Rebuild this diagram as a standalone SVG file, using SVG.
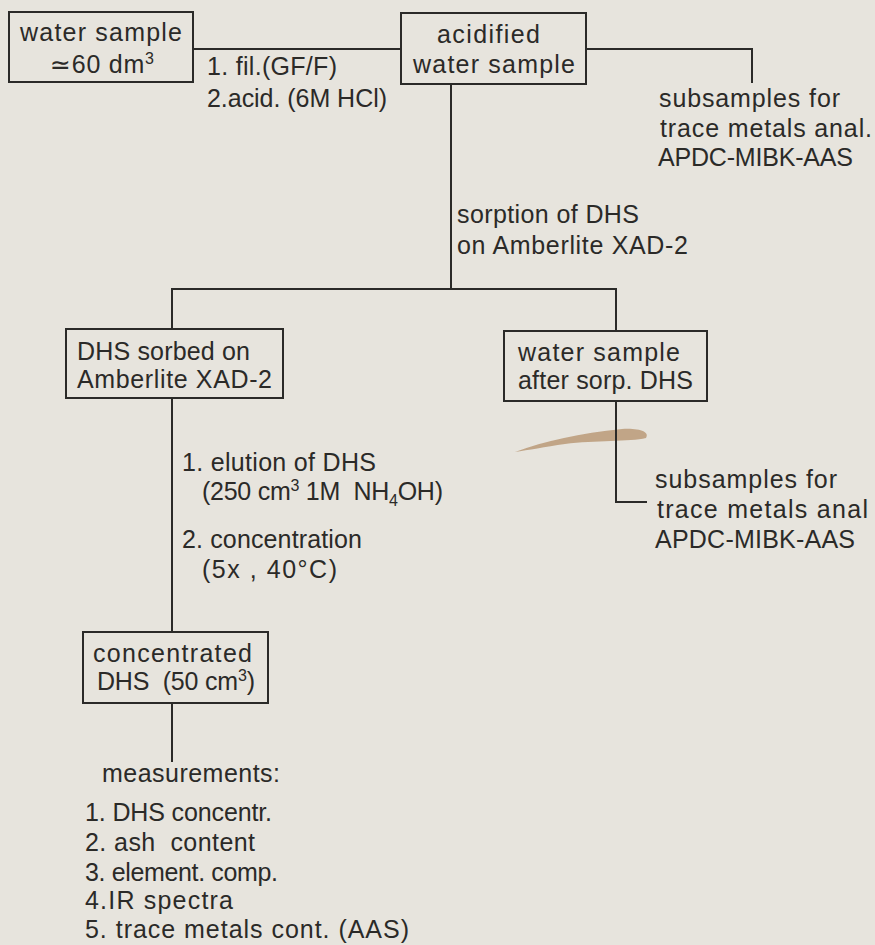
<svg xmlns="http://www.w3.org/2000/svg" width="875" height="945" viewBox="0 0 875 945">
<style>
.bg{fill:#e7e4dd}
.box{fill:none;stroke:#2b2a28;stroke-width:2}
.ln{fill:none;stroke:#2b2a28;stroke-width:2}
text{font-family:"Liberation Sans","DejaVu Sans",sans-serif;font-size:25px;fill:#2b2a28}
.sup{font-size:16px}
</style>
<rect class="bg" x="0" y="0" width="875" height="945"/>
<path d="M515,452 C545,441 580,433 622,429 C640,428 650,432 646,438 C630,442 595,440 565,444 C545,447 528,450 515,452 Z" fill="#b08a62" opacity="0.7"/>
<g id="connectors">
<line class="ln" x1="193" y1="49" x2="401" y2="49"/>
<polyline class="ln" points="586,49 752,49 752,83"/>
<line class="ln" x1="451" y1="84" x2="451" y2="289"/>
<polyline class="ln" points="172,329 172,289 616,289 616,331"/>
<polyline class="ln" points="616,401 616,502 647,502"/>
<line class="ln" x1="172" y1="398" x2="172" y2="632"/>
<line class="ln" x1="172" y1="703" x2="172" y2="762"/>
</g>
<g id="label-filacid">
<text x="207" y="75" textLength="130" lengthAdjust="spacing">1. fil.(GF/F)</text>
<text x="207" y="107" textLength="180" lengthAdjust="spacing">2.acid. (6M HCl)</text>
</g>
<g id="label-sorption">
<text x="457" y="223" textLength="182" lengthAdjust="spacing">sorption of DHS</text>
<text x="457" y="254" textLength="231" lengthAdjust="spacing">on Amberlite XAD-2</text>
</g>
<g id="label-elution">
<text x="182" y="471" textLength="194" lengthAdjust="spacing">1. elution of DHS</text>
<text x="202" y="500" textLength="241" lengthAdjust="spacing" xml:space="preserve">(250 cm<tspan class="sup" dy="-9">3</tspan><tspan dy="9"> 1M  NH</tspan><tspan class="sup" dy="6">4</tspan><tspan dy="-6">OH)</tspan></text>
<text x="182" y="548" textLength="180" lengthAdjust="spacing">2. concentration</text>
<text x="202" y="578" textLength="135" lengthAdjust="spacing">(5x , 40°C)</text>
</g>
<g id="node-water-sample">
<rect class="box" x="9" y="12" width="184" height="70"/>
<text x="20" y="41" textLength="162" lengthAdjust="spacing">water sample</text>
<text x="50" y="73" textLength="104" lengthAdjust="spacing">≃60 dm<tspan class="sup" dy="-9">3</tspan></text>
</g>
<g id="node-acidified">
<rect class="box" x="401" y="13" width="185" height="71"/>
<text x="437" y="43" textLength="103" lengthAdjust="spacing">acidified</text>
<text x="413" y="73" textLength="162" lengthAdjust="spacing">water sample</text>
</g>
<g id="node-subsamples-1">
<text x="659" y="107" textLength="181" lengthAdjust="spacing">subsamples for</text>
<text x="660" y="137" textLength="212" lengthAdjust="spacing">trace metals anal.</text>
<text x="658" y="166" textLength="195" lengthAdjust="spacing">APDC-MIBK-AAS</text>
</g>
<g id="node-dhs-sorbed">
<rect class="box" x="66" y="329" width="217" height="69"/>
<text x="77" y="360" textLength="173" lengthAdjust="spacing">DHS sorbed on</text>
<text x="77" y="388" textLength="195" lengthAdjust="spacing">Amberlite XAD-2</text>
</g>
<g id="node-after-sorp">
<rect class="box" x="504" y="331" width="203" height="70"/>
<text x="518" y="361" textLength="162" lengthAdjust="spacing">water sample</text>
<text x="518" y="389" textLength="175" lengthAdjust="spacing">after sorp. DHS</text>
</g>
<g id="node-subsamples-2">
<text x="655" y="488" textLength="182" lengthAdjust="spacing">subsamples for</text>
<text x="657" y="518" textLength="211" lengthAdjust="spacing">trace metals anal</text>
<text x="655" y="548" textLength="200" lengthAdjust="spacing">APDC-MIBK-AAS</text>
</g>
<g id="node-concentrated">
<rect class="box" x="83" y="632" width="185" height="71"/>
<text x="93" y="662" textLength="159" lengthAdjust="spacing">concentrated</text>
<text x="97" y="690" textLength="158" lengthAdjust="spacing" xml:space="preserve">DHS  (50 cm<tspan class="sup" dy="-9">3</tspan><tspan dy="9">)</tspan></text>
</g>
<g id="node-measurements">
<text x="102" y="782" textLength="178" lengthAdjust="spacing">measurements:</text>
<text x="85" y="821" textLength="187" lengthAdjust="spacing">1. DHS concentr.</text>
<text x="85" y="851" textLength="170" lengthAdjust="spacing" xml:space="preserve">2. ash  content</text>
<text x="85" y="881" textLength="193" lengthAdjust="spacing">3. element. comp.</text>
<text x="85" y="909" textLength="148" lengthAdjust="spacing">4.IR spectra</text>
<text x="85" y="938" textLength="324" lengthAdjust="spacing">5. trace metals cont. (AAS)</text>
</g>
</svg>
